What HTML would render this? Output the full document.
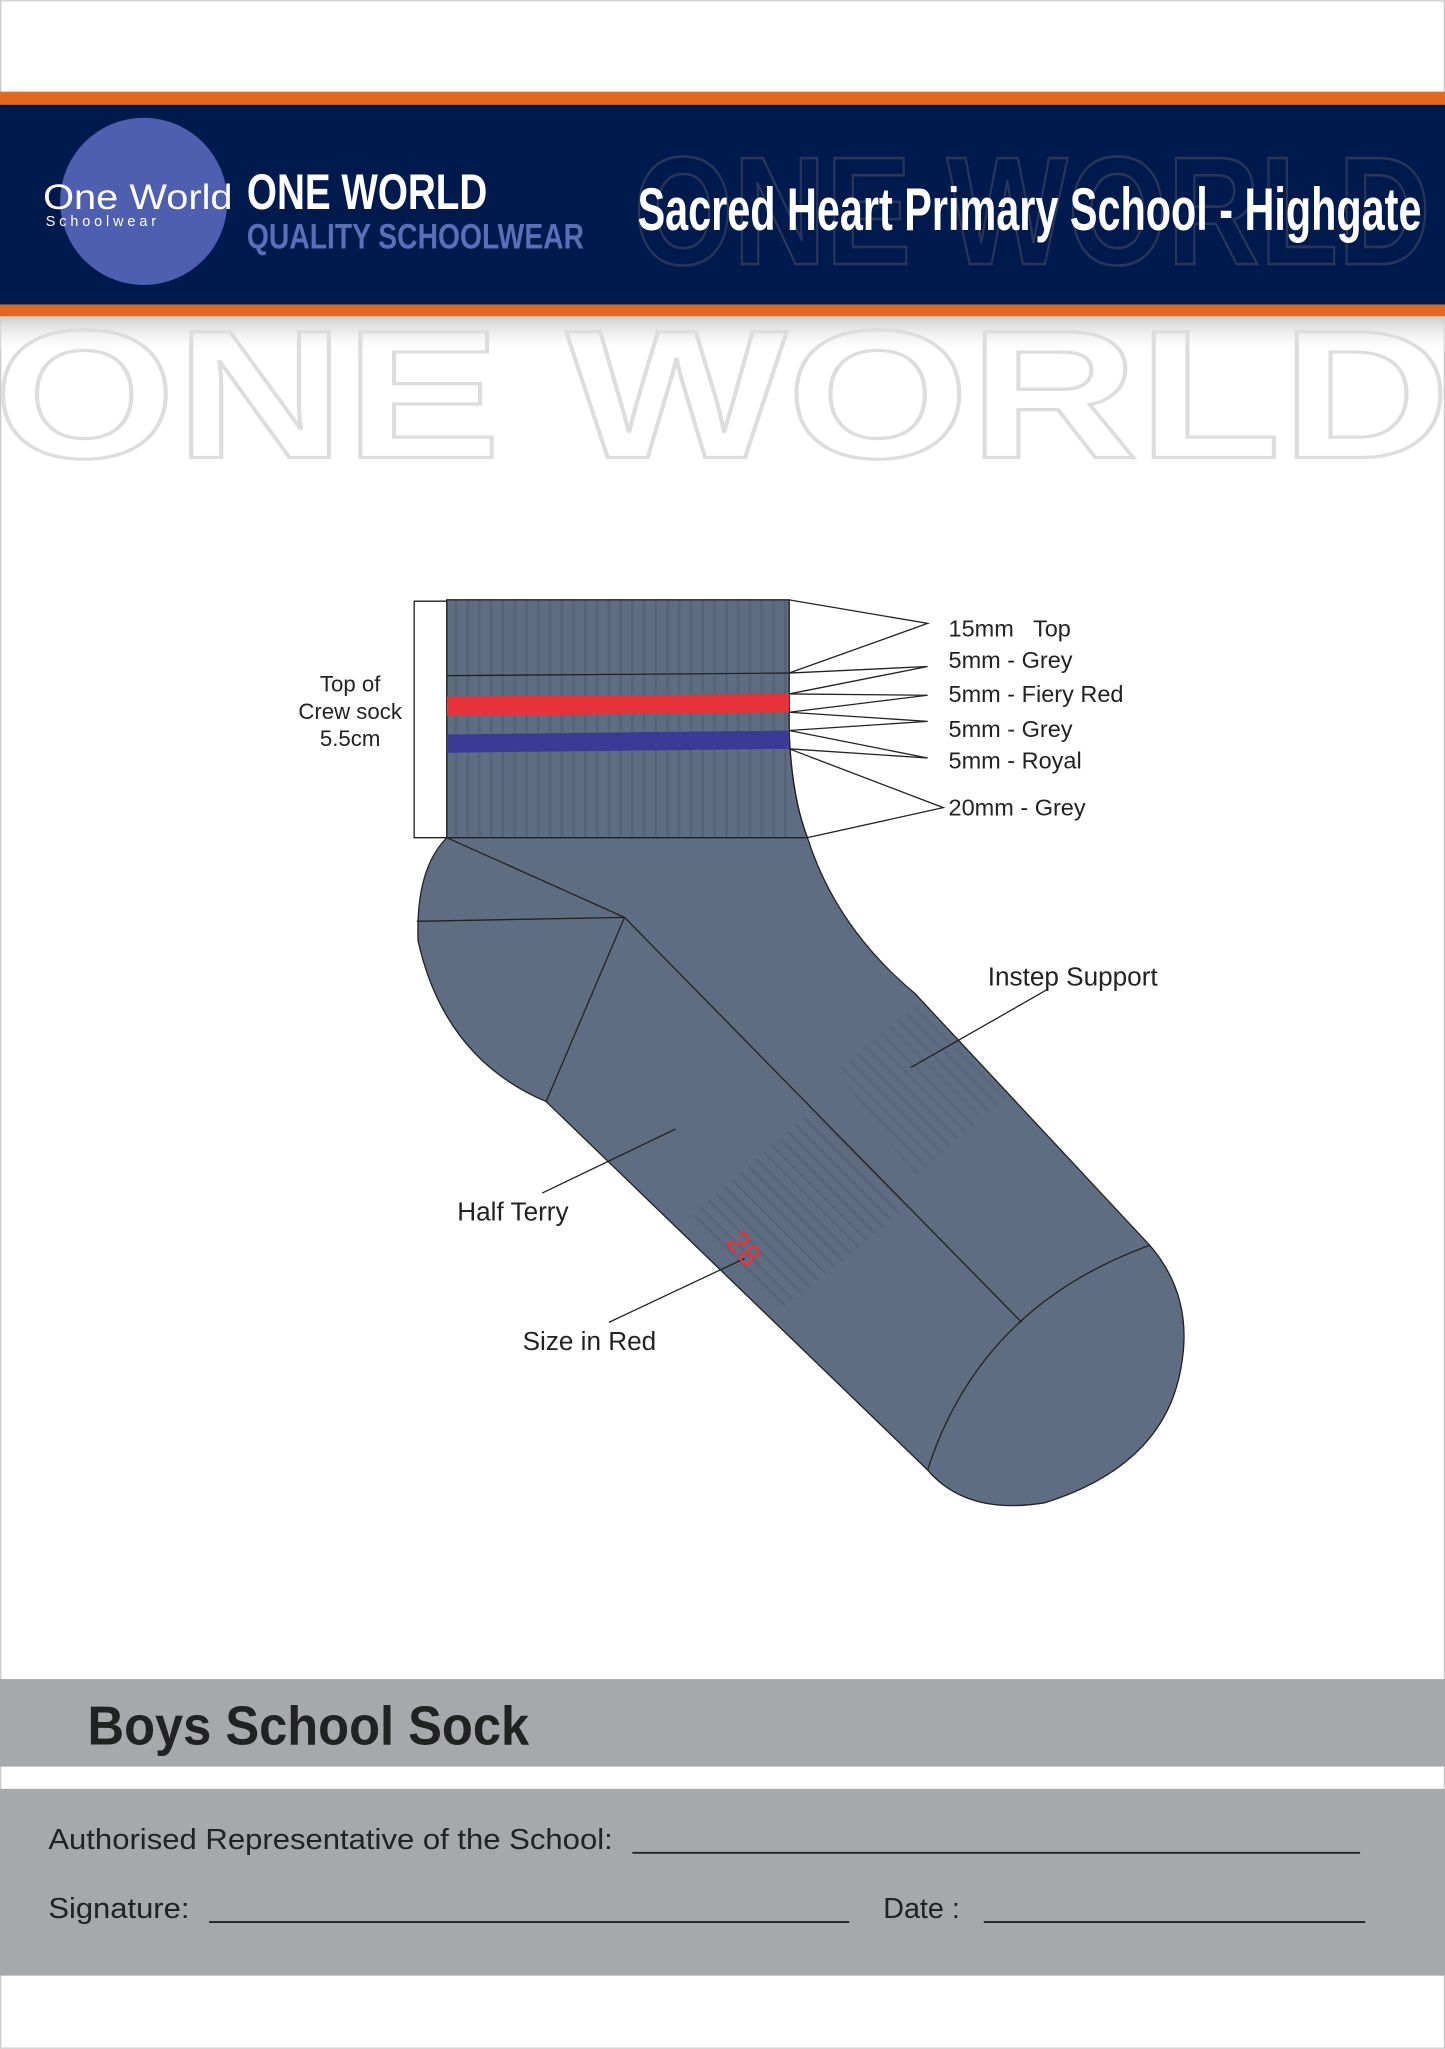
<!DOCTYPE html>
<html><head><meta charset="utf-8"><style>
html,body{margin:0;padding:0;background:#fff}
svg{display:block}
text{font-family:"Liberation Sans",sans-serif}
</style></head><body>
<svg width="1445" height="2049" viewBox="0 0 1106 1568" xmlns="http://www.w3.org/2000/svg">
<defs>
<linearGradient id="sh" x1="0" y1="0" x2="0" y2="1"><stop offset="0" stop-color="#ccc"/><stop offset="1" stop-color="#fff" stop-opacity="0"/></linearGradient>
<pattern id="rib" width="9" height="10" patternUnits="userSpaceOnUse"><rect width="9" height="10" fill="#5f6d83"/><rect x="6" width="2" height="10" fill="#56647a"/></pattern>
<pattern id="terry" width="8" height="8" patternUnits="userSpaceOnUse" patternTransform="rotate(-45)"><rect width="8" height="8" fill="#5f6d83"/><rect x="5" width="2" height="8" fill="#55627a"/></pattern>
</defs>
<rect width="1106" height="1568" fill="#fff"/>
<rect x="0.5" y="0.5" width="1105" height="1567" fill="none" stroke="#ccc"/>
<rect x="0" y="70" width="1106" height="10" fill="#e0681f"/>
<rect x="0" y="80" width="1106" height="153" fill="#001a4d"/>
<rect x="0" y="233" width="1106" height="9" fill="#e0681f"/>
<rect x="0" y="242" width="1106" height="30" fill="url(#sh)"/>
<text x="485" y="202" font-size="118" font-weight="bold" fill="none" stroke="#27365a" stroke-width="2" textLength="610" lengthAdjust="spacingAndGlyphs">ONE WORLD</text>
<circle cx="110" cy="154" r="64" fill="#4f5fb0"/>
<text x="33" y="160" font-family="Liberation Serif" font-size="27" fill="#fff" textLength="145" lengthAdjust="spacingAndGlyphs">One World</text>
<text x="35" y="173" font-family="Liberation Mono" font-size="11" fill="#fff" letter-spacing="3">Schoolwear</text>
<text x="189" y="160" font-size="38" font-weight="bold" fill="#fff" textLength="184" lengthAdjust="spacingAndGlyphs">ONE WORLD</text>
<text x="189" y="190" font-size="27" font-weight="bold" fill="#5b6eb8" textLength="258" lengthAdjust="spacingAndGlyphs">QUALITY SCHOOLWEAR</text>
<text x="488" y="176" font-size="46" font-weight="bold" fill="#fff" textLength="600" lengthAdjust="spacingAndGlyphs">Sacred Heart Primary School - Highgate</text>
<text x="-5" y="350" font-size="140" font-weight="bold" fill="none" stroke="#ddd" stroke-width="2.5" textLength="1115" lengthAdjust="spacingAndGlyphs">ONE WORLD</text>
<path d="M342,459 L604,459 L604,560 Q606,610 618,641 Q640,710 700,760 L880,953 Q912,990 905,1040 Q895,1120 800,1150 Q740,1160 710,1125 L418,843 Q340,810 320,720 Q318,665 342,641 Z" fill="#5f6d83" stroke="#222" stroke-width="1"/>
<rect x="342" y="459" width="262" height="182" fill="url(#rib)"/>
<path d="M342,459 L604,459 L604,560 Q606,610 618,641 L342,641 Z" fill="none" stroke="#222"/>
<path d="M530,930 L620,850 L700,920 L600,1000 Z" fill="url(#terry)" opacity="0.8"/>
<path d="M640,820 L700,770 L770,840 L700,900 Z" fill="url(#terry)" opacity="0.6"/>
<line x1="342" y1="517" x2="604" y2="515" stroke="#222"/>
<polygon points="342,533 604,531 604,545 342,548" fill="#e8323a"/>
<polygon points="342,562 604,559 604,573 342,576" fill="#3a3b95"/>
<g stroke="#222" fill="none" stroke-width="1">
<line x1="342" y1="641" x2="478" y2="702"/>
<line x1="319" y1="705" x2="478" y2="702"/>
<line x1="478" y1="702" x2="418" y2="843"/>
<line x1="478" y1="702" x2="782" y2="1012"/>
<path d="M880,953 Q750,1000 710,1125"/>
<polyline points="342,460 317,460 317,641 342,641"/>
<polyline points="604,459 710,477 604,515"/>
<polyline points="604,515 710,510 604,531"/>
<polyline points="604,531 710,532 604,545"/>
<polyline points="604,545 710,552 604,559"/>
<polyline points="604,559 710,580 604,573"/>
<polyline points="604,573 722,618 618,641"/>
<line x1="697" y1="817" x2="802" y2="757"/>
<line x1="415" y1="913" x2="517" y2="864"/>
<line x1="466" y1="1012" x2="570" y2="963"/>
</g>
<text x="549" y="958" font-size="24" fill="#e8323a" transform="rotate(50 560 960)">28</text>
<g font-size="18" fill="#222">
<text x="726" y="487">15mm&#160;&#160; Top</text>
<text x="726" y="511">5mm - Grey</text>
<text x="726" y="537">5mm - Fiery Red</text>
<text x="726" y="564">5mm - Grey</text>
<text x="726" y="588">5mm - Royal</text>
<text x="726" y="624">20mm - Grey</text>
<text x="268" y="529" text-anchor="middle" font-size="17">Top of</text>
<text x="268" y="550" text-anchor="middle" font-size="17">Crew sock</text>
<text x="268" y="571" text-anchor="middle" font-size="17">5.5cm</text>
<text x="756" y="754" font-size="20">Instep Support</text>
<text x="350" y="934" font-size="20">Half Terry</text>
<text x="400" y="1033" font-size="20">Size in Red</text>
</g>
<rect x="0" y="1285" width="1106" height="67" fill="#a7a8ab"/>
<text x="67" y="1335" font-size="42" font-weight="bold" fill="#222" textLength="338" lengthAdjust="spacingAndGlyphs">Boys School Sock</text>
<rect x="0" y="1369" width="1106" height="143" fill="#a7a8ab"/>
<g font-size="22" fill="#222">
<text x="37" y="1415" textLength="432" lengthAdjust="spacingAndGlyphs">Authorised Representative of the School:</text>
<text x="37" y="1468" textLength="108" lengthAdjust="spacingAndGlyphs">Signature:</text>
<text x="676" y="1468">Date :</text>
</g>
<g stroke="#222" stroke-width="1.5">
<line x1="484" y1="1418" x2="1041" y2="1418"/>
<line x1="160" y1="1471" x2="650" y2="1471"/>
<line x1="753" y1="1471" x2="1045" y2="1471"/>
</g>
</svg>
</body></html>
